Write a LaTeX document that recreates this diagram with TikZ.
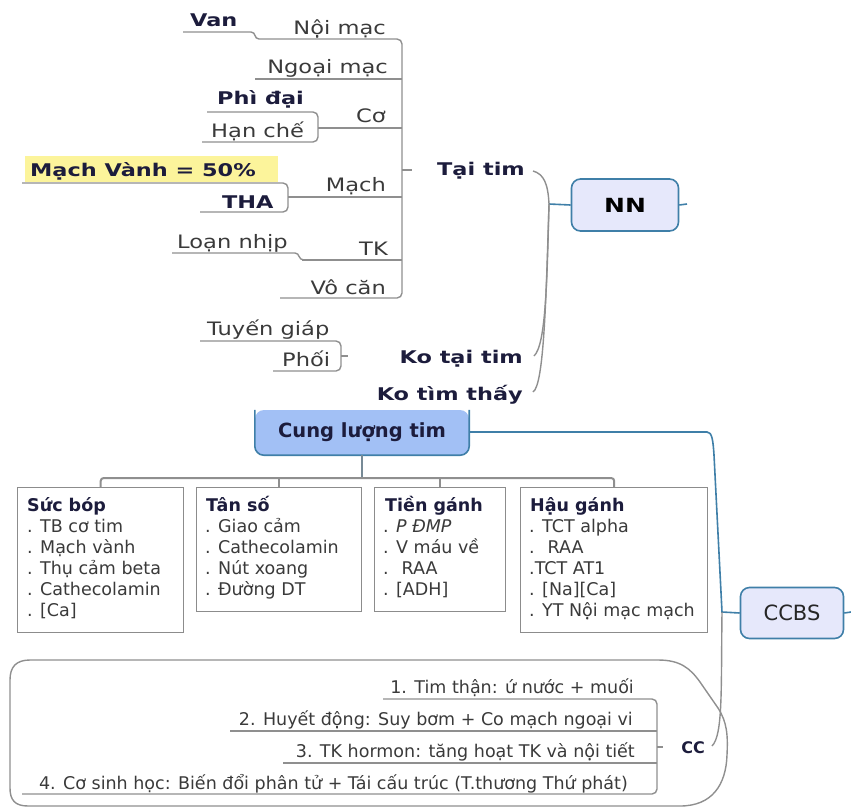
\documentclass[tikz,border=0pt]{standalone}
\usepackage{fontspec}
\setmainfont{DejaVu Sans}
\newfontfamily\widefont{DejaVu Sans}[FakeStretch=1.22]
\newfontfamily\widebold{DejaVu Sans}[FakeStretch=1.28]

\definecolor{linegrey}{HTML}{8F8F8F}
\definecolor{boxgrey}{HTML}{8C8C8C}
\definecolor{linkblue}{HTML}{3F7FA8}
\definecolor{lav}{HTML}{E6E8FB}
\definecolor{topicblue}{HTML}{A2C0F5}
\definecolor{txtgrey}{HTML}{3A3A3A}
\definecolor{navytxt}{HTML}{1C1C3C}
\definecolor{hilite}{HTML}{FCF49B}

\begin{document}
\begin{tikzpicture}[x=1pt,y=-1pt,
  ln/.style={draw=linegrey, line width=1.4pt},
  bl/.style={draw=linkblue, line width=1.6pt},
  reg/.style={inner sep=0pt, text=txtgrey, font=\widefont\fontsize{18.5}{20}\selectfont},
  bld/.style={inner sep=0pt, text=navytxt, font=\widebold\bfseries\fontsize{17.5}{20}\selectfont},
  btxt/.style={inner sep=0pt, text=txtgrey, font=\fontsize{17.5}{21}\selectfont, anchor=base west},
  btitle/.style={inner sep=0pt, text=navytxt, font=\bfseries\fontsize{17.5}{21}\selectfont, anchor=base west},
  ctxt/.style={inner sep=0pt, text=txtgrey, font=\fontsize{17.5}{21}\selectfont, anchor=base east},
  card/.style={draw=boxgrey, line width=1.4pt, fill=white, anchor=north west, inner sep=0pt},
  topic/.style={draw=linkblue, line width=1.6pt, fill=lav, rounded corners=9pt, inner sep=0pt}
]
\useasboundingbox (0,0) rectangle (851,809);

% ---------------- NN : causes ----------------
\node[topic, minimum width=107pt, minimum height=52pt,
      font=\widebold\bfseries\fontsize{19.5}{22}\selectfont] (nn) at (625,205) {NN};
\coordinate (nnj) at (549,204);
\coordinate (nnstub) at (687,204);
\draw[bl] (nnj) -- (nn.west);
\draw[bl] (nn.east) -- (nnstub);

% first level children of NN
\node[bld, anchor=base west] (taitim) at (437,175) {Tại tim};
\node[bld, anchor=base east] (kotaitim) at (523,363) {Ko tại tim};
\node[bld, anchor=base east] (kothay) at (523,400) {Ko tìm thấy};
\coordinate (tt-end) at (533,171);
\coordinate (kt-end) at (534,356);
\coordinate (kth-end) at (533,392);
\draw[ln] (nnj) .. controls (548,184) and (544,174) .. (tt-end);
\draw[ln] (nnj) .. controls (547,280) and (546,345) .. (kt-end);
\draw[ln] (nnj) .. controls (546,300) and (544,385) .. (kth-end);

% "Tại tim" subtree
\coordinate (tt-stub) at (412,170);
\coordinate (tt-bar) at (402,170);
\draw[ln] (tt-bar) -- (tt-stub);

\node[reg, anchor=base east] (noimac) at (386,34) {Nội mạc};
\node[reg, anchor=base east] (ngoaimac) at (388,73) {Ngoại mạc};
\node[reg, anchor=base east] (co) at (386,122) {Cơ};
\node[reg, anchor=base east] (mach) at (386,191) {Mạch};
\node[reg, anchor=base east] (tk) at (388,255) {TK};
\node[reg, anchor=base east] (vocan) at (386,294) {Vô căn};

\coordinate (noimac-l) at (259,39);
\coordinate (noimac-r) at (402,39);
\coordinate (vocan-r) at (402,298);
\coordinate (vocan-l) at (280,298);
\draw[ln, rounded corners=5pt] (noimac-l) -- (noimac-r) -- (vocan-r) -- (vocan-l);
\draw[ln] (255,79) -- (402,79);
\draw[ln] (318,128) -- (402,128);
\draw[ln] (288,197) -- (402,197);
\draw[ln] (302,260) -- (402,260);

% leaves
\node[bld, anchor=base west] (van) at (190,26) {Van};
\draw[ln] (183,32) -- (251,32) .. controls (256,32) and (254,39) .. (noimac-l);

\node[bld, anchor=base west] (phidai) at (217,104) {Phì đại};
\node[reg, anchor=base west] (hanche) at (211,137) {Hạn chế};
\draw[ln, rounded corners=5pt] (207,112) -- (318,112) -- (318,142) -- (202,142);

\fill[hilite] (25,156) rectangle (278,182);
\node[bld, anchor=base west] (machvanh) at (30,176) {Mạch Vành = 50\%};
\node[bld, anchor=base west] (tha) at (222,208) {THA};
\draw[ln, rounded corners=5pt] (22,183) -- (288,183) -- (288,212) -- (200,212);

\node[reg, anchor=base west] (loannhip) at (177,248) {Loạn nhịp};
\draw[ln] (172,253) -- (295,253) .. controls (300,253) and (298,260) .. (304,260);

% "Ko tại tim" subtree
\node[reg, anchor=base west] (tuyengiap) at (207,335) {Tuyến giáp};
\node[reg, anchor=base west] (phoi) at (282,366) {Phối};
\draw[ln, rounded corners=5pt] (200,341) -- (341,341) -- (341,371) -- (273,371);
\draw[ln] (341,356) -- (348,356);

% ---------------- Cung lượng tim ----------------
\node[fill=topicblue, rounded corners=9pt, minimum width=214pt, minimum height=45pt,
      inner sep=0pt, text=navytxt, font=\bfseries\fontsize{19.5}{22}\selectfont] (clt) at (362,432.5) {Cung lượng tim};
\draw[bl, rounded corners=9pt] (clt.north west) -- (clt.south west) -- (clt.south east) -- (clt.north east);

\node[card, minimum width=166pt, minimum height=145pt] (sucbox) at (17,487) {};
\node[card, minimum width=165pt, minimum height=124pt] (tanbox) at (196,487) {};
\node[card, minimum width=131pt, minimum height=124pt] (tienbox) at (374,487) {};
\node[card, minimum width=187pt, minimum height=145pt] (haubox) at (520,487) {};

\coordinate (bus) at (362,478);
\draw[draw=linegrey!70!linkblue, line width=1.6pt] (clt.south) -- (bus);
\draw[ln, line width=2pt, rounded corners=3pt] (sucbox.north) -- ++(0,-9) -| (haubox.north);
\draw[ln, line width=2pt] (tanbox.north) -- ++(0,-9);
\draw[ln, line width=2pt] (tienbox.north) -- ++(0,-9);

% box contents
\node[btitle] (sb0) at (27,511) {Sức bóp};
\foreach \t [count=\i] in {{. TB cơ tim},{. Mạch vành},{. Thụ cảm beta},{. Cathecolamin},{. [Ca]}}
  \node[btxt] (sb\i) at (27,511+21*\i) {\t};

\node[btitle] (ts0) at (206,511) {Tân số};
\foreach \t [count=\i] in {{. Giao cảm},{. Cathecolamin},{. Nút xoang},{. Đường DT}}
  \node[btxt] (ts\i) at (205,511+21*\i) {\t};

\node[btitle] (tg0) at (385,511) {Tiền gánh};
\foreach \t [count=\i] in {{. \textit{P ĐMP}},{. V máu về},{.~ RAA},{. [ADH]}}
  \node[btxt] (tg\i) at (383,511+21*\i) {\t};

\node[btitle] (hg0) at (530,511) {Hậu gánh};
\foreach \t [count=\i] in {{. TCT alpha},{.~ RAA},{.TCT AT1},{. [Na][Ca]},{. YT Nội mạc mạch}}
  \node[btxt] (hg\i) at (529,511+21*\i) {\t};

% ---------------- CCBS ----------------
\node[topic, minimum width=103pt, minimum height=51pt,
      text=black!85, font=\fontsize{21}{23}\selectfont] (ccbs) at (792,613) {CCBS};
\coordinate (ccbsj) at (722,612);
\coordinate (ccbsstub) at (851,612);
\draw[bl] (clt.east |- 0,432) -- (707,432) .. controls (712,432) and (713,440) .. (714,455) -- (ccbsj) -- (ccbs.west);
\draw[bl] (ccbs.east) -- (ccbsstub);

% CC : mechanisms
\node[inner sep=0pt, text=navytxt, font=\bfseries\fontsize{16}{18}\selectfont, anchor=base east] (cc) at (705,753) {CC};
\coordinate (cc-end) at (712,746);
\draw[ln] (ccbsj) .. controls (721,690) and (723,735) .. (cc-end);

\draw[ln] (30,660) -- (658,660) .. controls (680,660) and (690,668) .. (700,682)
  -- (718,708) .. controls (727,722) and (728,735) .. (727,755)
  .. controls (726,785) and (712,806) .. (680,806) -- (28,806)
  .. controls (15,806) and (10,800) .. (10,788) -- (10,680)
  .. controls (10,667) and (16,660) .. (30,660) -- cycle;

\node[ctxt] (cc1) at (634,693) {1. Tim thận: ứ nước + muối};
\node[ctxt] (cc2) at (633,725) {2. Huyết động: Suy bơm + Co mạch ngoại vi};
\node[ctxt] (cc3) at (635,757) {3. TK hormon: tăng hoạt TK và nội tiết};
\node[ctxt] (cc4) at (628,789) {4. Cơ sinh học: Biến đổi phân tử + Tái cấu trúc (T.thương Thứ phát)};

\coordinate (cc1-l) at (383,699);
\coordinate (cc1-r) at (657,699);
\coordinate (cc4-r) at (657,794);
\coordinate (cc4-l) at (22,794);
\draw[ln, rounded corners=5pt] (cc1-l) -- (cc1-r) -- (cc4-r) -- (cc4-l);
\draw[ln] (230,731) -- (657,731);
\draw[ln] (283,763) -- (657,763);
\draw[ln] (657,747) -- (663,747);
\end{tikzpicture}
\end{document}
